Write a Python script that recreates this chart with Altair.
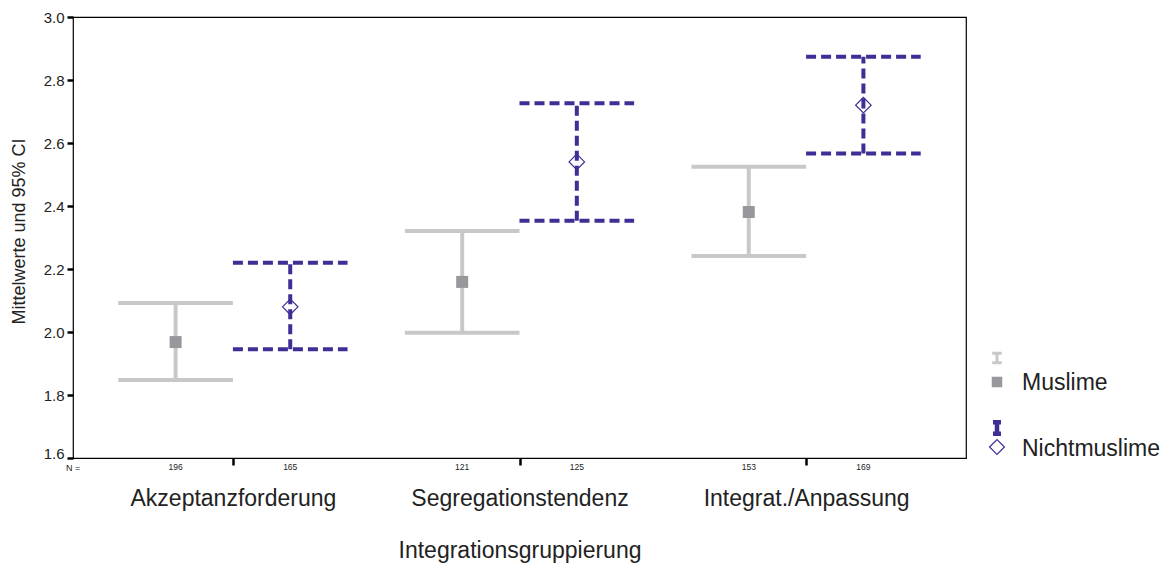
import json
import altair as alt
import pandas as pd

categories = ["Akzeptanzforderung", "Segregationstendenz", "Integrat./Anpassung"]
groups = ["Muslime", "Nichtmuslime"]
n_muslime = [196, 121, 153]
n_nicht = [165, 125, 169]
mean_muslime = [1.968, 2.159, 2.381]
lower_muslime = [1.848, 1.998, 2.241]
upper_muslime = [2.092, 2.321, 2.525]
mean_nicht = [2.080, 2.540, 2.720]
lower_nicht = [1.945, 2.353, 2.567]
upper_nicht = [2.220, 2.726, 2.874]

GREY_LINE = "#c8c8c8"
GREY_PT = "#98989c"
PURPLE = "#3d2f95"
FONT = "Liberation Sans"
TXT = "#222222"

rows = []
for gi, (g, ns, ms, ls, us) in enumerate(zip(
        groups,
        [n_muslime, n_nicht],
        [mean_muslime, mean_nicht],
        [lower_muslime, lower_nicht],
        [upper_muslime, upper_nicht])):
    for ci, cat in enumerate(categories):
        rows.append(dict(cat=cat, ci=ci, grp=g, gi=gi, n=ns[ci],
                         mean=ms[ci], lo=ls[ci], hi=us[ci]))
df = pd.DataFrame(rows)

W, H = 893, 441
xscale = alt.Scale(domain=[-0.558, 2.558], nice=False, zero=False)
yscale = alt.Scale(domain=[1.6, 3.0], nice=False, zero=False)

base = alt.Chart(df).transform_calculate(
    pos="datum.ci + (datum.gi == 0 ? -0.2 : 0.2)",
    left="datum.ci + (datum.gi == 0 ? -0.4 : 0.0)",
    right="datum.ci + (datum.gi == 0 ? 0.0 : 0.4)",
)

label_expr = "%s[datum.value]" % json.dumps(categories)

xax = alt.X("pos:Q", scale=xscale, axis=alt.Axis(
    values=[0, 1, 2], labelExpr=label_expr, grid=False, domain=False,
    tickSize=7, tickWidth=2.5, tickColor="black",
    labelFontSize=23, labelFont=FONT, labelColor=TXT, labelPadding=22,
    labelLimit=0, labelOverlap=False, labelFlush=False,
    title="Integrationsgruppierung", titleFontSize=23, titleFont=FONT,
    titleFontWeight="normal", titleColor=TXT, titlePadding=29))
yax = alt.Y("mean:Q", scale=yscale, axis=alt.Axis(
    values=[1.6, 1.8, 2.0, 2.2, 2.4, 2.6, 2.8, 3.0], format=".1f",
    grid=False, domain=False, tickSize=6, tickWidth=2.5, tickColor="black",
    labelFontSize=15, labelFont=FONT, labelColor=TXT, labelPadding=3,
    labelFlush=False,
    labelBaseline={"condition": {"test": "datum.value <= 1.6", "value": "alphabetic"},
                   "value": "middle"},
    title="Mittelwerte und 95% CI", titleFontSize=18, titleFont=FONT,
    titleFontWeight="normal", titleColor=TXT, titlePadding=15, titleY=214))


def layers_for(gi, color, dash, ptcolor, shape, filled, size):
    b = base.transform_filter("datum.gi == %d" % gi)
    kw = dict(color=color, strokeWidth=4)
    if dash:
        kw["strokeDash"] = dash
    vert = b.mark_rule(**kw).encode(
        x=alt.X("pos:Q", scale=xscale), y=alt.Y("lo:Q", scale=yscale), y2="hi:Q")
    cap_hi = b.mark_rule(**kw).encode(
        x=alt.X("left:Q", scale=xscale), x2="right:Q", y=alt.Y("hi:Q", scale=yscale))
    cap_lo = b.mark_rule(**kw).encode(
        x=alt.X("left:Q", scale=xscale), x2="right:Q", y=alt.Y("lo:Q", scale=yscale))
    if filled:
        pt = b.mark_point(shape=shape, filled=True, color=ptcolor, size=size, opacity=1)
    else:
        pt = b.mark_point(shape=shape, filled=False, color=ptcolor, size=size,
                          strokeWidth=1.2, opacity=1)
    pt = pt.encode(x=alt.X("pos:Q", scale=xscale), y=alt.Y("mean:Q", scale=yscale))
    return [vert, cap_hi, cap_lo, pt]


axes_layer = base.mark_point(opacity=0).encode(x=xax, y=yax)

grey_layers = layers_for(0, GREY_LINE, None, GREY_PT, "square", True, 144)
purple_layers = layers_for(1, PURPLE, [10, 5], PURPLE, "diamond", False, 240)

n_text = base.mark_text(fontSize=8.5, font=FONT, color=TXT, baseline="middle").encode(
    x=alt.X("pos:Q", scale=xscale), y=alt.value(450), text="n:Q")
n_eq = alt.Chart(pd.DataFrame({"t": ["N ="]})).mark_text(
    fontSize=9, font=FONT, color=TXT, baseline="middle", align="center").encode(
    x=alt.value(0), y=alt.value(451), text="t:N")

ibeam_m = "M-1,-1H1M0,-1V1M-1,1H1"
ibeam_n = "M-0.7,-1H0.7M0,-1V1M-0.7,1H0.7"
leg_df = pd.DataFrame({"grp": groups})
leg_m = alt.Chart(leg_df).transform_filter("datum.grp == '%s'" % groups[0])
leg_n = alt.Chart(leg_df).transform_filter("datum.grp == '%s'" % groups[1])
legend = [
    leg_m.mark_point(shape=ibeam_m, filled=False, color=GREY_LINE, strokeWidth=3,
                     size=90, opacity=1).encode(x=alt.value(924), y=alt.value(341)),
    leg_m.mark_point(shape="square", filled=True, color=GREY_PT, size=110,
                     opacity=1).encode(x=alt.value(924), y=alt.value(365)),
    leg_m.mark_text(fontSize=23, font=FONT, color=TXT, align="left",
                    baseline="middle").encode(x=alt.value(949), y=alt.value(366), text="grp:N"),
    leg_n.mark_point(shape=ibeam_n, filled=False, color=PURPLE, strokeWidth=4.5,
                     size=130, opacity=1).encode(x=alt.value(924), y=alt.value(411)),
    leg_n.mark_point(shape="diamond", filled=False, color=PURPLE, size=220,
                     strokeWidth=1.2, opacity=1).encode(x=alt.value(924), y=alt.value(430)),
    leg_n.mark_text(fontSize=23, font=FONT, color=TXT, align="left",
                    baseline="middle").encode(x=alt.value(949), y=alt.value(432), text="grp:N"),
]

chart = alt.layer(axes_layer, *grey_layers, *purple_layers, n_text, n_eq, *legend).properties(
    width=W, height=H,
    background="white",
    autosize=alt.AutoSizeParams(type="none"),
    padding={"left": 65, "top": 9, "right": 198, "bottom": 106},
).configure_view(stroke="black", strokeWidth=1.2)

chart.save("out.html", embed_options={"renderer": "svg", "actions": False})
